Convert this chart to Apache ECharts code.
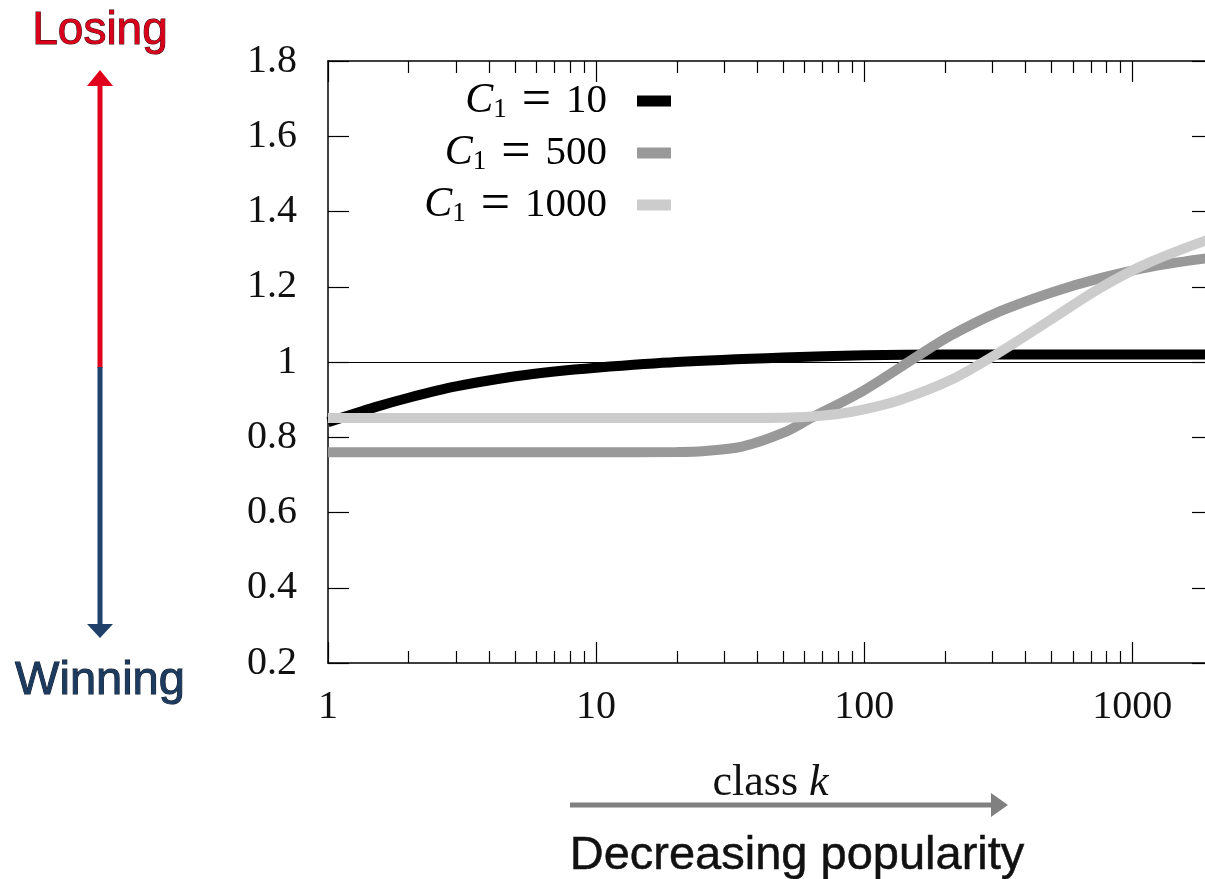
<!DOCTYPE html>
<html lang="en">
<head>
    <meta charset="UTF-8">
    <title>class k vs ratio</title>
    <script src="https://cdn.jsdelivr.net/npm/echarts@6/dist/echarts.min.js"></script>
    <style>
        html, body { margin: 0; padding: 0; background: #fff; overflow: hidden; }
        #main { width: 1215px; height: 879px; }
    </style>
</head>
<body>
<div id="main"></div>
<script type="text/javascript">
    // values
    var kBlack = [1, 1.5, 2, 3, 5, 7, 10, 20, 50, 100, 200, 500, 1000, 2000];
    var c10 = [0.84, 0.88, 0.905, 0.935, 0.962, 0.975, 0.985, 1.0, 1.012, 1.018, 1.02, 1.02, 1.02, 1.02];

    var kGray = [1, 10, 20, 25, 35, 50, 63, 100, 160, 210, 322, 500, 760, 1170, 2000];
    var c500 = [0.76, 0.76, 0.761, 0.763, 0.775, 0.812, 0.85, 0.925, 1.018, 1.07, 1.135, 1.185, 1.223, 1.253, 1.278];

    var kLight = [1, 40, 60, 80, 100, 136, 210, 322, 495, 760, 1170, 2000];
    var c1000 = [0.851, 0.851, 0.854, 0.862, 0.874, 0.899, 0.952, 1.027, 1.112, 1.197, 1.266, 1.33];

    var seriesNames = ['C1 = 10', 'C1 = 500', 'C1 = 1000'];
    var seriesColors = ['#000000', '#999999', '#cccccc'];

    var majorTicks = [1, 10, 100, 1000];
    var minorTicks = [2, 3, 4, 5, 6, 7, 8, 9, 20, 30, 40, 50, 60, 70, 80, 90, 200, 300, 400, 500, 600, 700, 800, 900];

    function pairs(xs, ys) {
        var out = [];
        for (var i = 0; i < xs.length; i++) out.push([xs[i], ys[i]]);
        return out;
    }

    var serif = 'Liberation Serif';

    var myChart = echarts.init(document.getElementById('main'));

    function xAxisCfg(pos, ticks, len, showLine, showLabel) {
        return {
            type: 'log',
            logBase: 10,
            min: 1,
            max: 2000,
            position: pos,
            axisLine: { show: showLine, lineStyle: { color: '#000', width: 1.5 } },
            axisTick: { show: true, inside: true, length: len, customValues: ticks, lineStyle: { color: '#000', width: 1.2 } },
            axisLabel: {
                show: showLabel,
                customValues: majorTicks,
                margin: 24,
                fontSize: 40,
                fontFamily: serif,
                color: '#111',
                formatter: function (v) { return String(Math.round(v)); }
            },
            splitLine: { show: false },
            minorTick: { show: false }
        };
    }

    var xMain = xAxisCfg('bottom', majorTicks, 21, true, true);
    xMain.name = '{n|class }{i|k}';
    xMain.nameLocation = 'middle';
    xMain.nameGap = 98;
    xMain.nameTextStyle = {
        rich: {
            n: { fontFamily: serif, fontSize: 44, color: '#111' },
            i: { fontFamily: serif, fontSize: 44, fontStyle: 'italic', color: '#111' }
        }
    };

    function yAxisCfg(pos, showLabel) {
        return {
            type: 'value',
            min: 0.2,
            max: 1.8,
            interval: 0.2,
            position: pos,
            axisLine: { show: true, lineStyle: { color: '#000', width: 1.5 } },
            axisTick: { show: true, inside: true, length: 21, lineStyle: { color: '#000', width: 1.2 } },
            axisLabel: { show: showLabel, margin: 31, fontSize: 40, fontFamily: serif, color: '#111' },
            splitLine: { show: false }
        };
    }

    var series = [];
    var dataSets = [pairs(kBlack, c10), pairs(kGray, c500), pairs(kLight, c1000)];
    for (var s = 0; s < 3; s++) {
        series.push({
            name: seriesNames[s],
            type: 'line',
            xAxisIndex: 0,
            yAxisIndex: 0,
            data: dataSets[s],
            smooth: 0.3,
            showSymbol: false,
            symbol: 'none',
            color: seriesColors[s],
            lineStyle: { color: seriesColors[s], width: 10 },
            itemStyle: { color: seriesColors[s] },
            animation: false,
            z: 2
        });
    }
    // thin reference line at 1
    series[0].markLine = {
        silent: true,
        symbol: 'none',
        z: 1,
        label: { show: false },
        lineStyle: { color: '#000', width: 1.2, type: 'solid' },
        data: [{ yAxis: 1 }]
    };

    var option = {
        backgroundColor: '#ffffff',
        animation: false,
        grid: { left: 328, right: 2, top: 61, bottom: 216, containLabel: false },
        legend: {
            orient: 'vertical',
            align: 'right',
            right: 544,
            top: 75,
            padding: 0,
            itemGap: 0,
            itemWidth: 34,
            itemHeight: 11,
            icon: 'rect',
            itemStyle: { borderWidth: 0 },
            data: seriesNames,
            formatter: function (name) {
                var v = name.split('= ')[1];
                return '{c|C}{s|1}{e|=}{t|' + v + '}{g|}';
            },
            textStyle: {
                fontFamily: serif,
                fontSize: 40,
                color: '#000',
                rich: {
                    c: { fontFamily: serif, fontSize: 42, fontStyle: 'italic', lineHeight: 47, color: '#000' },
                    s: { fontFamily: serif, fontSize: 27, lineHeight: 29, padding: [18, 0, 0, 0], color: '#000' },
                    e: { fontFamily: serif, fontSize: 52, lineHeight: 47, padding: [0, 15, 0, 15], color: '#000' },
                    t: { fontFamily: serif, fontSize: 41, lineHeight: 47, color: '#000' },
                    g: { width: 25, lineHeight: 47 }
                }
            }
        },
        xAxis: [
            xMain,
            xAxisCfg('bottom', minorTicks, 12, false, false),
            xAxisCfg('top', majorTicks, 21, true, false),
            xAxisCfg('top', minorTicks, 12, false, false)
        ],
        yAxis: [yAxisCfg('left', true), yAxisCfg('right', false)],
        series: series,
        graphic: [
            // losing / winning arrow on the left
            { type: 'line', shape: { x1: 100, y1: 84, x2: 100, y2: 368 }, style: { stroke: '#e0001b', lineWidth: 5 } },
            { type: 'line', shape: { x1: 100, y1: 367, x2: 100, y2: 626 }, style: { stroke: '#1f4068', lineWidth: 5 } },
            { type: 'polygon', shape: { points: [[87, 86], [113, 86], [100, 70]] }, style: { fill: '#e0001b' } },
            { type: 'polygon', shape: { points: [[87, 624], [113, 624], [100, 638]] }, style: { fill: '#1f4068' } },
            {
                type: 'text', x: 100, y: 31,
                style: { text: 'Losing', x: 0, y: 0, align: 'center', verticalAlign: 'middle', font: '46px "Liberation Sans"', fill: '#d9001b', stroke: '#3a0008', lineWidth: 1 }
            },
            {
                type: 'text', x: 100, y: 681,
                style: { text: 'Winning', x: 0, y: 0, align: 'center', verticalAlign: 'middle', font: '47px "Liberation Sans"', fill: '#1d3a5f', stroke: '#0a1626', lineWidth: 1 }
            },
            // decreasing popularity arrow
            { type: 'line', shape: { x1: 570, y1: 805, x2: 994, y2: 805 }, style: { stroke: '#808080', lineWidth: 5 } },
            { type: 'polygon', shape: { points: [[991, 793], [991, 817], [1008, 805]] }, style: { fill: '#808080' } },
            {
                type: 'text', x: 797, y: 856,
                style: { text: 'Decreasing popularity', x: 0, y: 0, align: 'center', verticalAlign: 'middle', font: '47px "Liberation Sans"', fill: '#111', stroke: '#111', lineWidth: 0.5 }
            }
        ]
    };
    myChart.setOption(option);
</script>
</body>
</html>
